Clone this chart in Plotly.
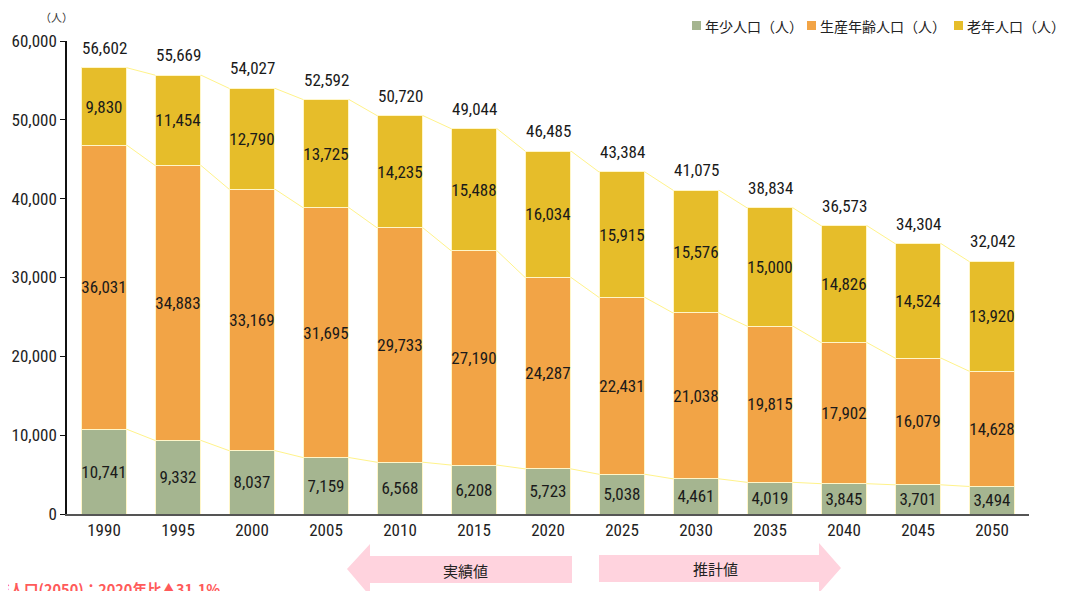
import plotly.graph_objects as go

years = ["1990", "1995", "2000", "2005", "2010", "2015", "2020", "2025", "2030", "2035", "2040", "2045", "2050"]
young = [10741, 9332, 8037, 7159, 6568, 6208, 5723, 5038, 4461, 4019, 3845, 3701, 3494]
working = [36031, 34883, 33169, 31695, 29733, 27190, 24287, 22431, 21038, 19815, 17902, 16079, 14628]
elderly = [9830, 11454, 12790, 13725, 14235, 15488, 16034, 15915, 15576, 15000, 14826, 14524, 13920]
totals = [56602, 55669, 54027, 52592, 50720, 49044, 46485, 43384, 41075, 38834, 36573, 34304, 32042]

series_names = ["年少人口（人）", "生産年齢人口（人）", "老年人口（人）"]
colors = ["#A5B590", "#F2A446", "#E6BD2A"]

NUM = "Liberation Sans Narrow, Roboto Condensed, Arial Narrow, Roboto, sans-serif"
JP = "Noto Sans CJK JP, sans-serif"

OFF = 8  # default page body margin
W, H = 1065 - OFF, 591 - OFF
PL, PR, PT, PB = 67, 1029, 41, 514  # plot area in page pixels
L, R, T, B = PL - OFF, W - (PR - OFF), PT - OFF, H - (PB - OFF)
BAR_W = 0.62

xs = list(range(len(years)))
fig = go.Figure()

for vals, name, col in zip([young, working, elderly], series_names, colors):
    fig.add_trace(go.Bar(
        x=xs, y=vals, name=name, width=BAR_W,
        marker=dict(color=col, line=dict(color="#FFF6C8", width=1)),
        text=[f"{v:,}" for v in vals], textposition="inside", textangle=0,
        insidetextanchor="middle", constraintext="none",
        insidetextfont=dict(family=NUM, size=17, color="#1a1a1a"),
        hoverinfo="skip", showlegend=False,
    ))

# series connector lines between bars
levels = [young,
          [a + b for a, b in zip(young, working)],
          [a + b + c for a, b, c in zip(young, working, elderly)]]
for lev in levels:
    lx, ly = [], []
    for i in range(len(xs) - 1):
        lx += [xs[i] + BAR_W / 2, xs[i + 1] - BAR_W / 2, None]
        ly += [lev[i], lev[i + 1], None]
    fig.add_trace(go.Scatter(x=lx, y=ly, mode="lines", showlegend=False,
                             line=dict(color="#FFF38A", width=1), hoverinfo="skip"))

# total labels
for i, t in enumerate(totals):
    fig.add_annotation(x=xs[i], y=levels[2][i], text=f"{t:,}", showarrow=False,
                       yanchor="bottom", yshift=8,
                       font=dict(family=NUM, size=17, color="#1a1a1a"))

def px(x):
    return (x - PL) / (PR - PL)

def py(y):
    return (PB - y) / (PB - PT)

def path(points):
    return "M " + " L ".join(f"{px(a):.5f},{py(b):.5f}" for a, b in points) + " Z"

# legend (squares + labels)
legend_pos = [692, 807, 954]
for name, col, x0 in zip(series_names, colors, legend_pos):
    fig.add_shape(type="rect", xref="paper", yref="paper",
                  x0=px(x0), x1=px(x0 + 9), y0=py(30), y1=py(21),
                  fillcolor=col, line=dict(width=0))
    fig.add_annotation(x=px(x0 + 11), y=py(26), xref="paper", yref="paper",
                       xanchor="left", yanchor="middle", text=name, showarrow=False,
                       font=dict(family=JP, size=14, color="#222"))

left_arrow = [(347, 569), (370, 544), (370, 556), (572, 556), (572, 583), (370, 583), (370, 596)]
right_arrow = [(599, 555), (819, 555), (819, 543), (841, 568), (819, 593), (819, 582), (599, 582)]
for pts in (left_arrow, right_arrow):
    fig.add_shape(type="path", path=path(pts), xref="paper", yref="paper",
                  fillcolor="#FFD3DE", line=dict(width=0), layer="below")

fig.add_annotation(x=px(465), y=py(570), xref="paper", yref="paper", text="実績値",
                   xanchor="center", yanchor="middle",
                   showarrow=False, font=dict(family=JP, size=15, color="#222"))
fig.add_annotation(x=px(715), y=py(568), xref="paper", yref="paper", text="推計値",
                   xanchor="center", yanchor="middle",
                   showarrow=False, font=dict(family=JP, size=15, color="#222"))

fig.add_annotation(x=px(56), y=py(17), xref="paper", yref="paper", text="（人）",
                   xanchor="center", yanchor="middle",
                   showarrow=False, font=dict(family=JP, size=11, color="#333"))

fig.add_annotation(x=px(222), y=py(576), xref="paper", yref="paper",
                   xanchor="right", yanchor="top",
                   text="<b>総人口(2050)：2020年比▲31.1%</b>", showarrow=False,
                   font=dict(family=JP, size=14.5, color="#FF5A5A"))

fig.update_layout(
    width=W, height=H,
    barmode="stack",
    margin=dict(l=L, r=R, t=T, b=B, autoexpand=False),
    paper_bgcolor="white", plot_bgcolor="white",
    showlegend=False,
    xaxis=dict(range=[-0.5, 12.5], tickvals=xs, ticktext=years, showgrid=False,
               zeroline=False, showline=True, linecolor="#555", linewidth=2,
               ticks="", automargin=False,
               tickfont=dict(family=NUM, size=17, color="#222")),
    yaxis=dict(range=[0, 60000], dtick=10000, tickformat=",", showgrid=False,
               zeroline=False, showline=True, linecolor="#111", linewidth=1.5,
               ticks="outside", ticklen=5, tickcolor="#111", automargin=False,
               tickfont=dict(family=NUM, size=17, color="#222")),
)

fig.write_html("out.html")
